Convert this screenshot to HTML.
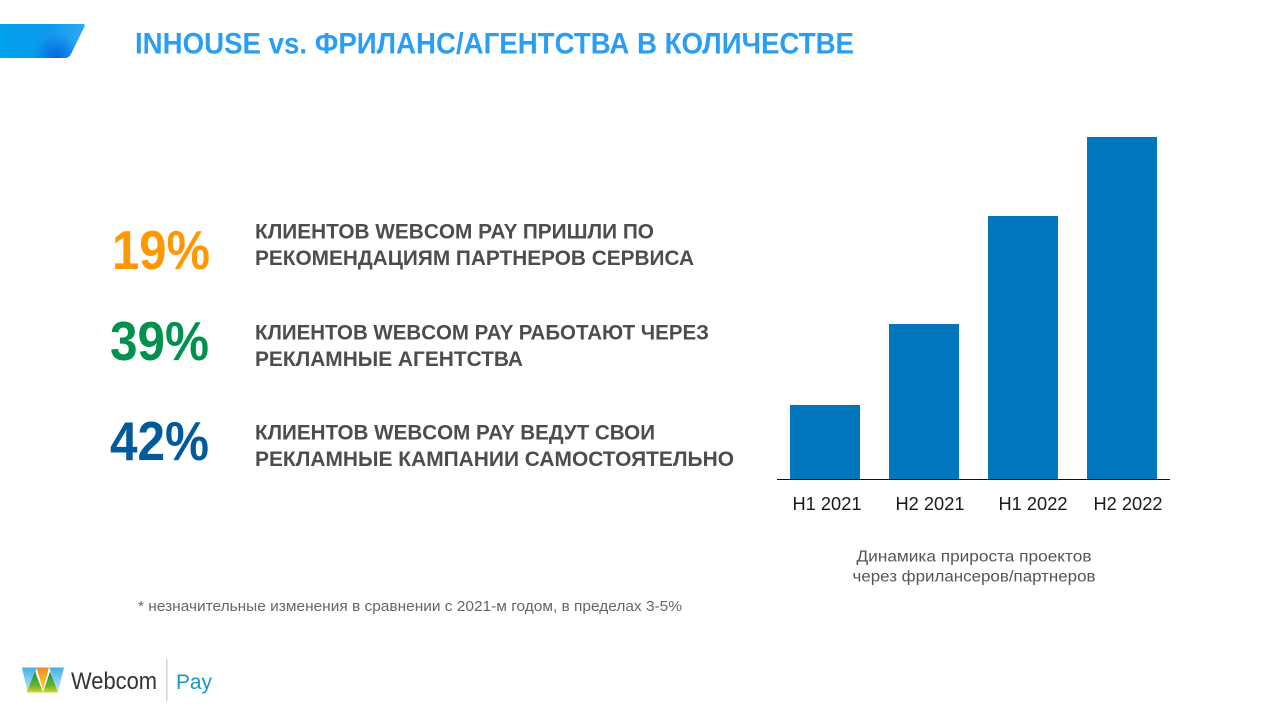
<!DOCTYPE html>
<html lang="ru">
<head>
<meta charset="utf-8">
<title>INHOUSE vs. ФРИЛАНС/АГЕНТСТВА</title>
<style>
html,body{margin:0;padding:0;background:#fff;width:1280px;height:720px;overflow:hidden}
svg{display:block;font-family:"Liberation Sans",sans-serif}
.body-text{font-size:21px;font-weight:700;fill:#4d4d4d}
.pct{font-size:55px;font-weight:700}
</style>
</head>
<body>
<svg id="slide" width="1280" height="720" viewBox="0 0 1280 720" xmlns="http://www.w3.org/2000/svg">
  <defs>
    <linearGradient id="tabGrad" x1="0" y1="0" x2="1" y2="0">
      <stop offset="0" stop-color="#00a2ec"/>
      <stop offset="0.55" stop-color="#0d98ec"/>
      <stop offset="1" stop-color="#2ea9f6"/>
    </linearGradient>
    <radialGradient id="tabShade" gradientUnits="userSpaceOnUse" cx="57" cy="58" r="24">
      <stop offset="0" stop-color="#0662dc" stop-opacity="0.95"/>
      <stop offset="1" stop-color="#0662dc" stop-opacity="0"/>
    </radialGradient>
    <linearGradient id="logoBlue" x1="0" y1="0" x2="0" y2="1">
      <stop offset="0" stop-color="#3fb0ea"/>
      <stop offset="1" stop-color="#c5e8f8"/>
    </linearGradient>
    <linearGradient id="logoGreen" x1="0" y1="0" x2="0" y2="1">
      <stop offset="0" stop-color="#0a9548"/>
      <stop offset="0.7" stop-color="#6db52c"/>
      <stop offset="1" stop-color="#d6d92c"/>
    </linearGradient>
    <linearGradient id="logoOrange" x1="0" y1="0" x2="0" y2="1">
      <stop offset="0" stop-color="#f58a1f"/>
      <stop offset="1" stop-color="#fbd23a"/>
    </linearGradient>
  </defs>

  <path fill="url(#tabGrad)" d="M0 24H83Q85.500 24 84.500 26.500L71 54Q69 58 65 58H0Z"/>
  <path fill="url(#tabShade)" d="M0 24H83Q85.500 24 84.500 26.500L71 54Q69 58 65 58H0Z"/>
  <text x="135" y="53.500" font-size="29.500" font-weight="700" fill="#2a9df4" textLength="719" lengthAdjust="spacingAndGlyphs">INHOUSE vs. ФРИЛАНС/АГЕНТСТВА В КОЛИЧЕСТВЕ</text>

  <text class="pct" x="112" y="269" fill="#ff9800" textLength="98" lengthAdjust="spacingAndGlyphs">19%</text>
  <text class="body-text" x="255" y="238.500" textLength="399" lengthAdjust="spacingAndGlyphs">КЛИЕНТОВ WEBCOM PAY ПРИШЛИ ПО</text>
  <text class="body-text" x="255" y="265" textLength="439" lengthAdjust="spacingAndGlyphs">РЕКОМЕНДАЦИЯМ ПАРТНЕРОВ СЕРВИСА</text>

  <text class="pct" x="110" y="360" fill="#00914f" textLength="99" lengthAdjust="spacingAndGlyphs">39%</text>
  <text class="body-text" x="255" y="339.500" textLength="454" lengthAdjust="spacingAndGlyphs">КЛИЕНТОВ WEBCOM PAY РАБОТАЮТ ЧЕРЕЗ</text>
  <text class="body-text" x="255" y="366" textLength="268" lengthAdjust="spacingAndGlyphs">РЕКЛАМНЫЕ АГЕНТСТВА</text>

  <text class="pct" x="110" y="460" fill="#005a9c" textLength="99" lengthAdjust="spacingAndGlyphs">42%</text>
  <text class="body-text" x="255" y="439.500" textLength="400" lengthAdjust="spacingAndGlyphs">КЛИЕНТОВ WEBCOM PAY ВЕДУТ СВОИ</text>
  <text class="body-text" x="255" y="466" textLength="479" lengthAdjust="spacingAndGlyphs">РЕКЛАМНЫЕ КАМПАНИИ САМОСТОЯТЕЛЬНО</text>

  <g id="chart"></g>

  <text x="974" y="561.500" font-size="15.500" fill="#555" text-anchor="middle" textLength="235" lengthAdjust="spacingAndGlyphs">Динамика прироста проектов</text>
  <text x="974" y="581.500" font-size="15.500" fill="#555" text-anchor="middle" textLength="243" lengthAdjust="spacingAndGlyphs">через фрилансеров/партнеров</text>

  <text x="138" y="611" font-size="14.500" fill="#666" textLength="544" lengthAdjust="spacingAndGlyphs">* незначительные изменения в сравнении с 2021-м годом, в пределах 3-5%</text>

  <g>
    <path fill="url(#logoBlue)" d="M22 667.500H37L29 692H27.500Z"/>
    <path fill="url(#logoBlue)" d="M49.500 667.500H64L58 692H56.500Z"/>
    <path fill="url(#logoOrange)" d="M36.500 667.500H49L43 690Z"/>
    <path fill="url(#logoGreen)" d="M35 671.500L43 692.500H26.500Z"/>
    <path fill="url(#logoGreen)" d="M50 671.500L58 692.500H43Z"/>
    <text x="71" y="689" font-size="24" fill="#333" textLength="86" lengthAdjust="spacingAndGlyphs">Webcom</text>
    <rect x="166" y="659" width="1.500" height="42" fill="#c9d6de"/>
    <text x="176" y="689" font-size="21" fill="#1a96cc" textLength="36" lengthAdjust="spacingAndGlyphs">Pay</text>
  </g>
</svg>
<script>
const categories = ['H1 2021', 'H2 2021', 'H1 2022', 'H2 2022'];
const growthValues = [74.5, 155.5, 263.5, 342.5];

const NS = 'http://www.w3.org/2000/svg';
const chart = document.getElementById('chart');
const baselineY = 479.5;
const firstBarX = 790;
const barStep = 99;
const barWidth = 70;
const pixelsPerUnit = 1;
const labelNudges = [2, 6, 10, 6];

function xScale(i) { return firstBarX + i * barStep; }
function yScale(v) { return baselineY - v * pixelsPerUnit; }

categories.forEach(function (category, i) {
  const top = yScale(growthValues[i]);
  const bar = document.createElementNS(NS, 'rect');
  
  
  bar.setAttribute('x', xScale(i));
  bar.setAttribute('y', top);
  bar.setAttribute('width', barWidth);
  bar.setAttribute('height', baselineY - top);
  bar.setAttribute('fill', '#0077bd');
  chart.appendChild(bar);

  const tick = document.createElementNS(NS, 'text');
  
  
  tick.setAttribute('x', xScale(i) + barWidth / 2 + labelNudges[i]);
  tick.setAttribute('y', 510);
  tick.setAttribute('font-size', '18');
  tick.setAttribute('fill', '#1a1a1a');
  tick.setAttribute('text-anchor', 'middle');
  tick.setAttribute('textLength', '69');
  tick.setAttribute('lengthAdjust', 'spacingAndGlyphs');
  tick.textContent = category;
  chart.appendChild(tick);
});

const axis = document.createElementNS(NS, 'line');


axis.setAttribute('x1', 777);
axis.setAttribute('x2', 1170);
axis.setAttribute('y1', baselineY);
axis.setAttribute('y2', baselineY);
axis.setAttribute('stroke', '#111');
axis.setAttribute('stroke-width', 1);
chart.appendChild(axis);
</script>
</body>
</html>
